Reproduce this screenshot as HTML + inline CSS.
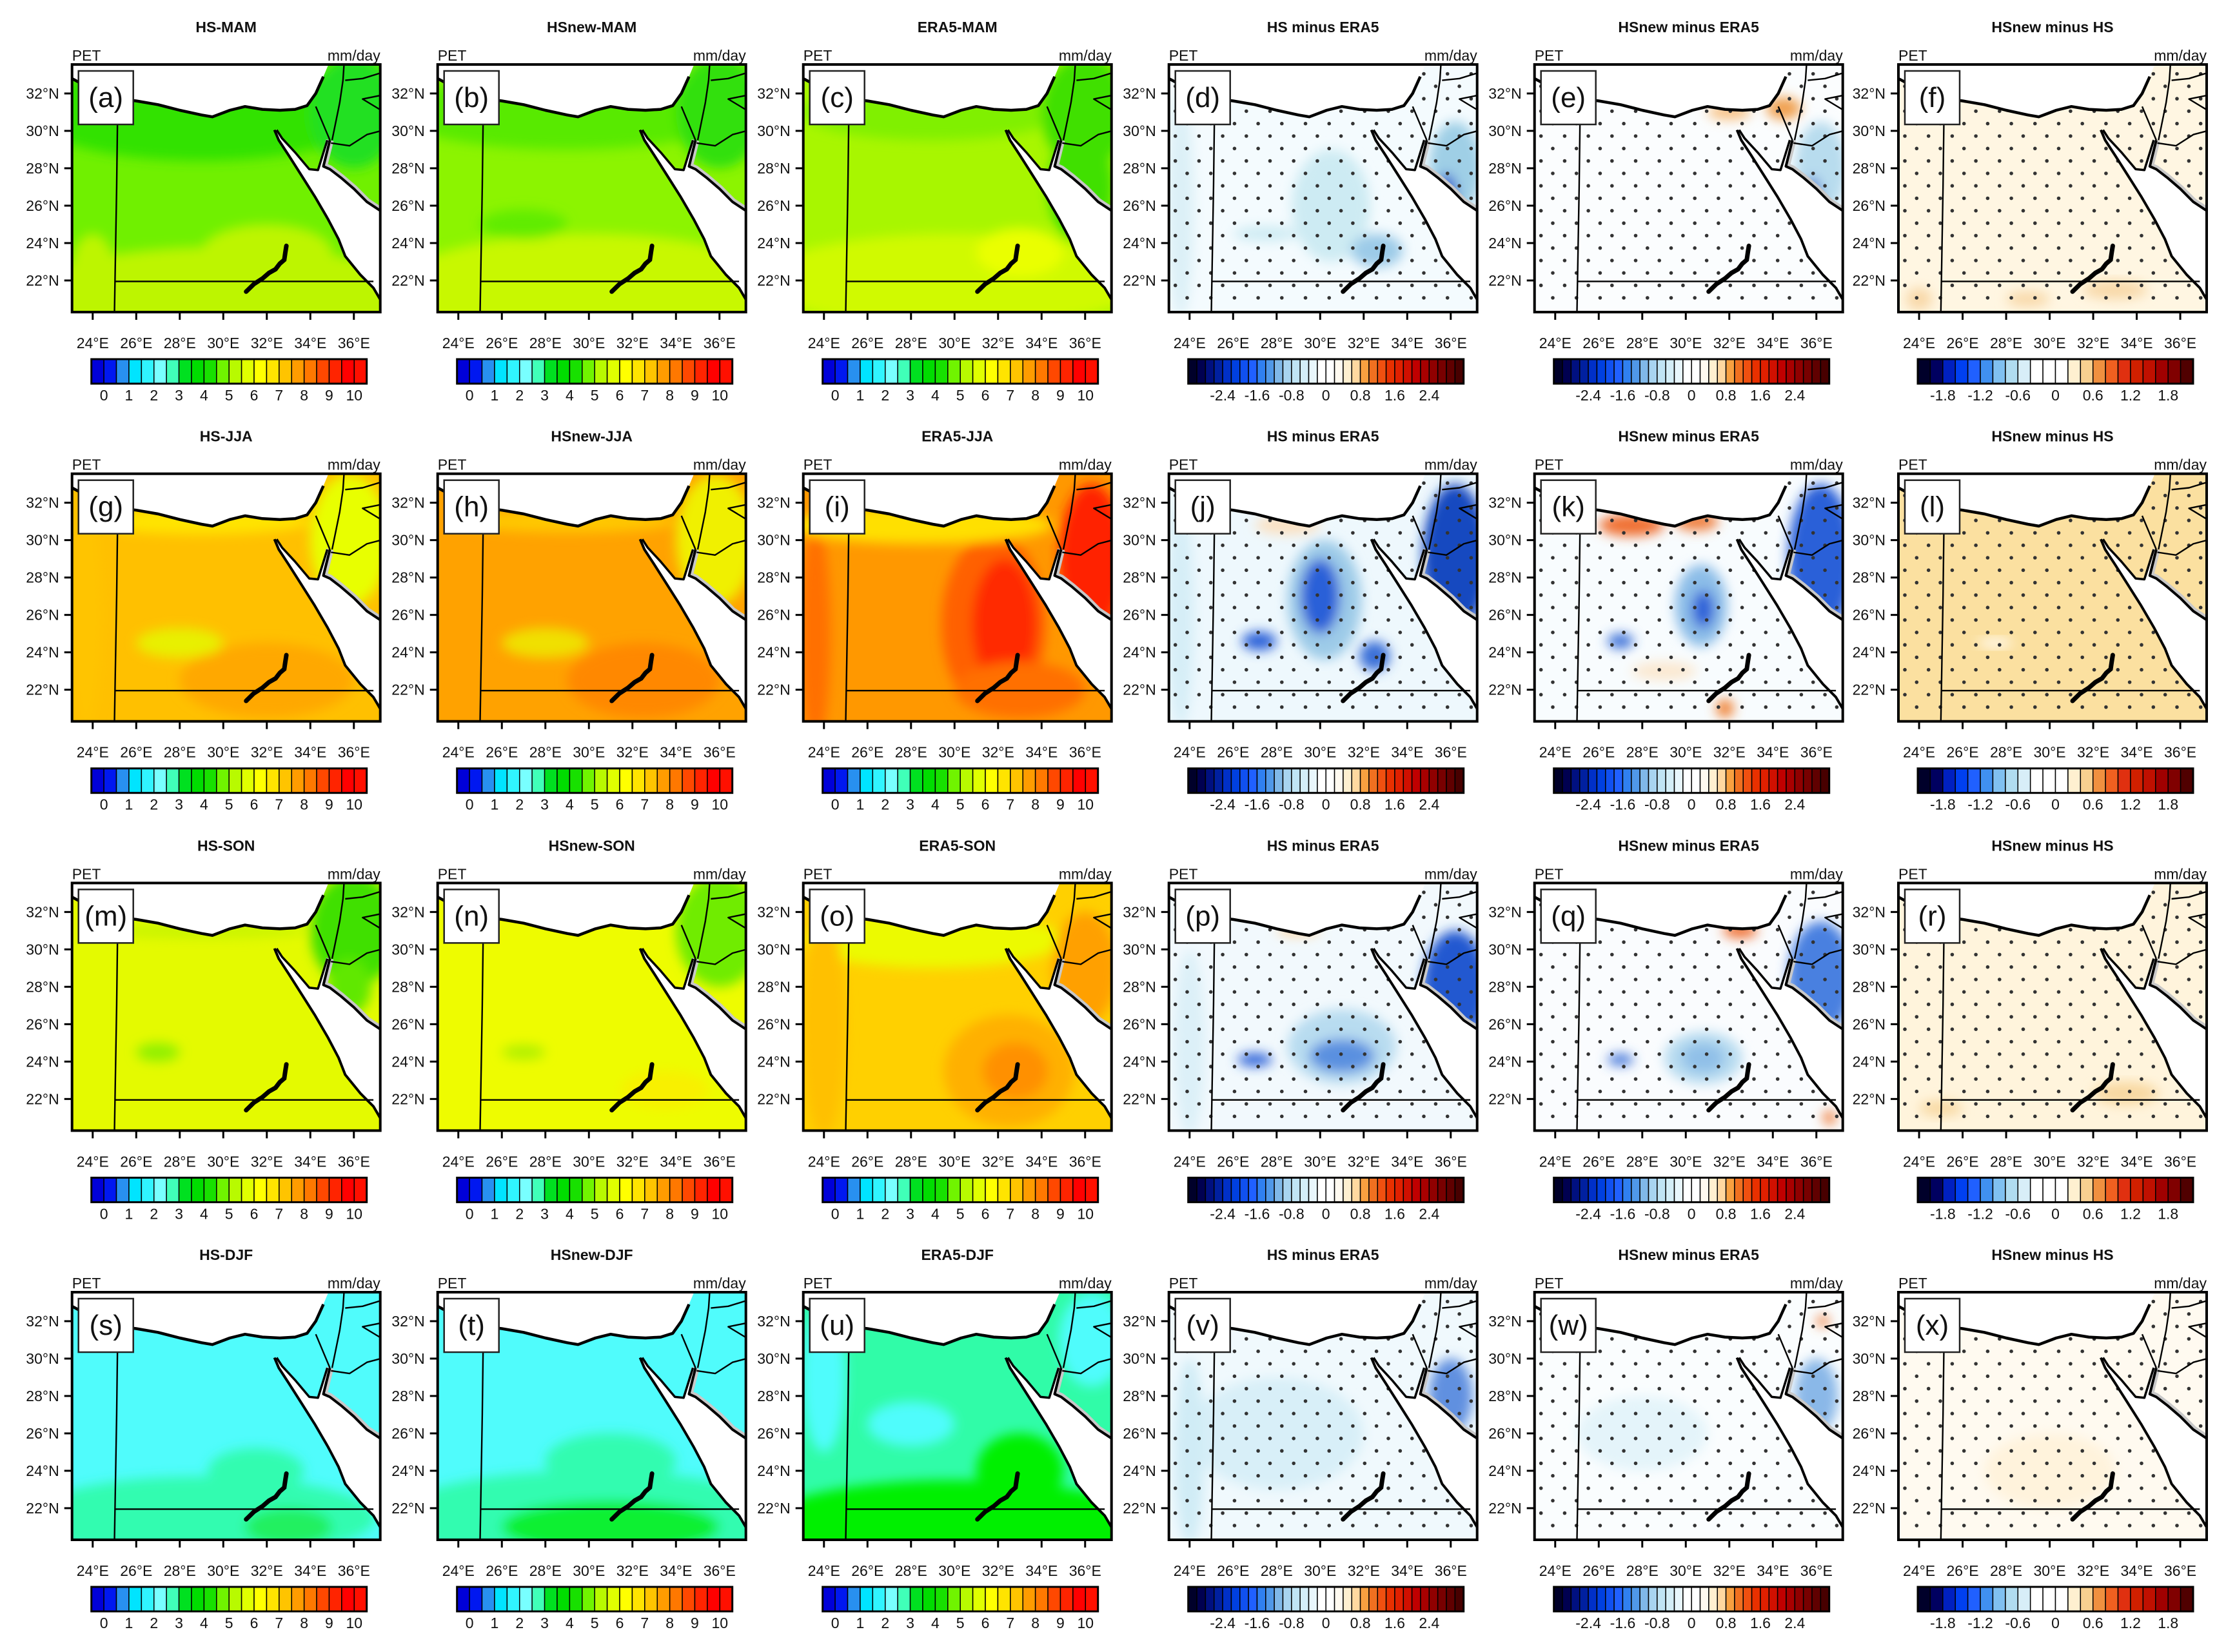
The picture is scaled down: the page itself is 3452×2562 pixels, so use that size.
<!DOCTYPE html>
<html><head><meta charset="utf-8"><title>PET seasonal maps</title>
<style>
html,body{margin:0;padding:0;background:#fff;}
svg{display:block;font-family:"Liberation Sans",sans-serif;}
</style></head>
<body>
<svg id="fig" xmlns="http://www.w3.org/2000/svg" width="3452" height="2562" viewBox="0 0 3452 2562">
<defs>
<filter id="blur" x="-20%" y="-20%" width="140%" height="140%"><feGaussianBlur stdDeviation="9"/></filter>
</defs>
<rect width="3452" height="2562" fill="#fff"/>
</svg>
<script>
// ---- data arrays ----
const seasons = ["MAM","JJA","SON","DJF"];
const colTitles = ["HS-","HSnew-","ERA5-","HS minus ERA5","HSnew minus ERA5","HSnew minus HS"];
const letters = "abcdefghijklmnopqrstuvwx";
const latTicks = [22,24,26,28,30,32];
const lonTicks = [24,26,28,30,32,34,36];
const absTickLabels = ["0","1","2","3","4","5","6","7","8","9","10"];
const diffTickLabels = ["-2.4","-1.6","-0.8","0","0.8","1.6","2.4"];
const hsTickLabels = ["-1.8","-1.2","-0.6","0","0.6","1.2","1.8"];
const absColors = ['#0000d8','#0018f0','#2890f0','#00e4ff','#30f4ff','#78ffff','#40ffb8','#00e020','#00dc00','#18e000','#70f400','#b8fa00','#e0ff00','#ffff00','#ffe400','#ffc400','#ff9c00','#ff7800','#ff4800','#ff2400','#ff0000','#ff1000'];
const diffColors = ['#00002a','#000050','#001080','#0020a0','#0030c8','#0040e0','#1050f0','#2060ff','#3080f0','#5098e8','#80b8e8','#a8d4f0','#c0e4f4','#d4eef8','#e8f6fc','#ffffff','#ffffff','#fffaf0','#fff0d0','#ffd8a0','#f8a040','#f07020','#f05010','#e83000','#e02000','#d01000','#c00000','#a80000','#900000','#780000','#600000','#480000'];
const hsColors = ['#00002a','#000060','#0020c0','#0040f0','#2060ff','#4090f0','#80c0f0','#b0dcf0','#d8eef8','#ffffff','#ffffff','#ffffff','#fff0d0','#f8d090','#f09040','#f06020','#e03010','#d02000','#c01000','#a00000','#800000','#500000'];
// fields: base colour + blobs [lon, lat, rxDeg, ryDeg, colour]
const fieldBase = [
 ['#70f000','#8cf400','#a8f600','#f4fbfe','#fbfdfe','#fff6e2'],
 ['#ffc000','#ffa200','#ff9800','#eef8fd','#f8fcfe','#fbe0a0'],
 ['#e4fa00','#eefc00','#ffd000','#f2f9fd','#fafcfe','#fff4dc'],
 ['#50fcfc','#50fcfc','#30fca8','#f0f9fd','#fafdfe','#fffaf0']
];
const fieldBlobs = [
 [
  [[29,31,8,2.6,'#30e200'],[30,21.3,9,2.5,'#bdf500'],[32,23.5,3,1.5,'#bdf500'],[36,31,2,3,'#20e020'],[24,22.5,1,2,'#bdf500']],
  [[29,31,8,2,'#58ea00'],[30,21.5,9,3,'#c8f800'],[27,25,2,0.8,'#60ec00'],[36,31,2,3,'#30e010']],
  [[30,22,9,2.5,'#d0fa00'],[33,23.5,2,1.3,'#eaff00'],[29,31,6,1.5,'#80f000'],[36,31,2,3,'#40e000'],[35.8,27,1.5,3,'#40e000']],
  [[30.5,26,1.8,3,'#cdebf3'],[32.6,23.6,1.2,0.9,'#9ccbe8'],[27.5,24.5,1.5,0.4,'#cdebf3'],[23.6,26,0.6,6,'#dcf0f7'],[36.2,28,1.2,2.5,'#9fcfe6'],[35.8,26.5,0.5,1.2,'#3060d0']],
  [[34.5,31.2,0.8,0.6,'#f0a050'],[32,31,1,0.4,'#f8c080'],[36.2,28,1.2,2.5,'#b8dcee'],[35.8,26.5,0.4,1,'#4070d0']],
  [[24,21,0.6,0.6,'#f8d8a8'],[33,21.5,1.5,0.5,'#f8d8a8'],[29,21,1,0.4,'#f8d8a8']]
 ],
 [
  [[32,22.5,4,2,'#ffa800'],[28,24.5,2,0.8,'#e8f000'],[29,31,5,0.7,'#ffe400'],[35.8,30,1.8,3.5,'#e8ff00'],[23.7,26,0.7,6,'#ffc400']],
  [[32.5,22.5,3.5,2,'#ff8800'],[28,24.5,2,0.8,'#f0e000'],[29,31,5,0.6,'#ffc800'],[35.8,30,1.8,3.5,'#f0f000']],
  [[31.8,25.5,2.4,4.8,'#ff6000'],[32.3,25.5,1.5,3.5,'#ff2a00'],[23.6,25,0.7,6,'#ff7000'],[28.5,30.8,6,1,'#ffe000'],[36.3,29,1.5,4,'#ff2000'],[33,22,3,1.5,'#ff7000']],
  [[30.2,26.8,1.7,3.2,'#9dcbe8'],[30,27,0.9,2,'#2a60d8'],[27.2,24.6,0.8,0.5,'#2a60d8'],[32.5,23.8,0.7,0.8,'#3a70d8'],[36.2,29,1.5,4,'#1848c0'],[28.5,30.8,1.5,0.5,'#fbe0c0'],[23.6,26,0.6,6,'#d6eef7']],
  [[27.5,30.8,1.5,0.6,'#f07030'],[30.5,31,1,0.5,'#f08040'],[30.7,26.5,1.2,2.2,'#8cbde8'],[30.8,26.3,0.5,1,'#2a60d8'],[27,24.6,0.6,0.4,'#3a70d8'],[31.8,21,0.4,0.5,'#f08030'],[36.2,29,1.5,4,'#2a60d8'],[29,23,1.5,0.5,'#fbe8d0']],
  [[27.5,24.5,0.8,0.3,'#fff8e8']]
 ],
 [
  [[27,24.5,1,0.5,'#90f000'],[36,31,2,3,'#40e000'],[35.8,28,1,1.5,'#60e800'],[29,31,5,0.4,'#c8f400']],
  [[27,24.5,1,0.4,'#b0f000'],[36,31,2,3,'#70ec00'],[33.5,22.5,2,1,'#f8f000']],
  [[32.5,23.5,3,3,'#ffb000'],[32.8,23.5,1.5,1.5,'#ff9000'],[29,30.5,6,1.5,'#ecfa00'],[36,29,1.5,3,'#ffa000'],[24,26,1,6,'#ffc000']],
  [[31,24.8,2.5,2,'#b8dcf0'],[31,24.3,1.5,0.9,'#5a90e0'],[27,24.1,0.8,0.35,'#2a60d8'],[36.2,28,1.5,3,'#2058d0'],[29,31,1,0.3,'#fbd8a8'],[24,25,0.7,5,'#dcf0f8']],
  [[30.8,24.2,1.8,1.4,'#b8dcf0'],[30.8,24.2,1,0.8,'#90c0e8'],[32.5,31,0.8,0.4,'#f07030'],[27,24.1,0.6,0.3,'#3a70d8'],[36.2,28.5,1.5,3,'#4a80e0'],[36.6,21,0.3,0.4,'#f08040']],
  [[33.5,22.3,1.5,0.6,'#f8d8a0'],[25,21.5,1,0.4,'#f8d8a0']]
 ],
 [
  [[29,21.5,8,2.2,'#30fcb0'],[31.5,24,2.2,1.2,'#30fcb0'],[33,21,2,1,'#20f060']],
  [[30,21.5,9,2.5,'#30fcb0'],[31,21,5,1.4,'#10f030'],[31,24.5,3,1.5,'#30fcb0']],
  [[30,21,9,2.5,'#00f000'],[33,24,2,2,'#00f000'],[24,29,1,4,'#50fcfc'],[28,26.5,2,1.2,'#50fcfc'],[36.3,31,1.5,2.5,'#50fcfc']],
  [[28,26,4,3,'#d8eff8'],[36,28,1,2,'#6090e0'],[24,25,0.7,5,'#d0ecf6']],
  [[28,26,3,2,'#e4f4fa'],[36,28,1,2,'#8ab8e8'],[36.3,32,0.3,0.3,'#f08040']],
  [[30,24,3,2,'#fff3dc']]
 ]
];
// geography (lon, lat)
const medSea = [[23.05,33.6],[23.05,32.8],[24,32.2],[25,31.75],[26,31.6],[27,31.4],[28,31.1],[29,30.85],[29.5,30.75],[30.3,31.1],[31,31.3],[31.8,31.15],[32.6,31.1],[33.3,31.15],[33.85,31.35],[34.25,32.0],[34.6,32.9],[34.85,33.6]];
const redSea = [[32.35,30.05],[32.55,29.5],[33.0,28.7],[33.6,27.6],[34.2,26.5],[34.8,25.3],[35.3,24.2],[35.6,23.3],[36.3,22.3],[36.9,21.6],[37.25,20.9],[37.25,25.7],[36.6,26.2],[36.0,26.9],[35.4,27.5],[34.9,27.95],[34.6,28.1],[34.9,29.5],[34.78,29.5],[34.35,27.9],[33.95,27.95],[33.3,28.85],[32.7,29.6],[32.45,30.05]];
const coastLine = medSea.slice(1, 17);
const redWest = redSea.slice(0, 11);
const redEast = [[37.25,25.7],[36.6,26.2],[36.0,26.9],[35.4,27.5],[34.9,27.95],[34.6,28.1],[34.9,29.5]];
const sinaiLine = [[34.78,29.5],[34.35,27.9],[33.95,27.95],[33.3,28.85],[32.7,29.6],[32.45,30.05]];
const borderLines = [
 [[25.15,31.6],[25.1,27],[25.0,20.3]],
 [[25.0,21.95],[36.9,21.95]],
 [[34.25,31.3],[34.9,29.5]],
 [[35.55,33.6],[35.5,32.7],[35.35,31.5],[35.0,29.5]],
 [[34.95,29.35],[35.8,29.2],[36.6,29.8],[37.25,30.0]],
 [[35.6,32.7],[36.4,32.8],[37.25,33.1]],
 [[37.25,31.9],[36.4,31.7],[37.25,31.1]]
];
const lakeNasser = [[31.05,21.4],[31.4,21.8],[31.8,22.1],[32.1,22.4],[32.4,22.6],[32.6,22.9],[32.8,23.1],[32.85,23.5],[32.9,23.85]];

// ---- layout ----
const W = 478, H = 384;
const colX = [111.7, 678.7, 1245.7, 1812.7, 2379.7, 2944];
const rowY = [100, 734.7, 1369.4, 2004];
const NS = "http://www.w3.org/2000/svg";
const fig = document.getElementById('fig');
function X(lon){ return (lon - 23.05) * 33.75; }
function Y(lat){ return (33.55 - lat) * 29; }
function el(tag, attrs, parent){ const e = document.createElementNS(NS, tag); for (const k in attrs) e.setAttribute(k, attrs[k]); (parent||fig).appendChild(e); return e; }
function pts(arr){ return arr.map(p => X(p[0]).toFixed(1)+','+Y(p[1]).toFixed(1)).join(' '); }

for (let r = 0; r < 4; r++) {
 for (let c = 0; c < 6; c++) {
  const bx = colX[c], by = rowY[r];
  const g = el('g', {transform: `translate(${bx},${by})`});
  
  
  const title = c < 3 ? colTitles[c] + seasons[r] : colTitles[c];
  const t = el('text', {x: W/2, y: -50, 'text-anchor': 'middle', 'font-size': 23, 'font-weight': 'bold', fill: '#111'}, g);
  t.textContent = title;
  
  
  const pet = el('text', {x: 0, y: -6, 'font-size': 23, fill: '#111'}, g);
  pet.textContent = 'PET';
  
  
  const unit = el('text', {x: W, y: -6, 'text-anchor': 'end', 'font-size': 23, fill: '#111'}, g);
  unit.textContent = 'mm/day';
  
  

  const clipId = 'clip' + r + '_' + c;
  const cp = el('clipPath', {id: clipId}, g);
  el('rect', {x: 0, y: 0, width: W, height: H}, cp);
  const map = el('g', {'clip-path': `url(#${clipId})`}, g);
  
  
  el('rect', {x: 0, y: 0, width: W, height: H, fill: fieldBase[r][c]}, map);
  const bg = el('g', {filter: 'url(#blur)'}, map);
  fieldBlobs[r][c].forEach(b => {
   const e = el('ellipse', {cx: X(b[0]), cy: Y(b[1]), rx: b[2]*33.75, ry: b[3]*29, fill: b[4]}, bg);
   
   
  });
  if (c >= 3) {
   const dg = el('g', {fill: '#333'}, map);
   
   
   for (let k = -5; k < 20; k++) {
    const yy = 111 + k*19.3;
    if (yy < 4 || yy > H-4) continue;
    const off = (((k % 2) + 2) % 2) ? 28.3 : 10;
    for (let xx = off; xx < W; xx += 36.7) el('circle', {cx: xx, cy: yy, r: 2.8}, dg);
   }
  }
  const med = el('polygon', {points: pts(medSea.concat([[23.05,33.6]])), fill: '#fff'}, map);
  
  
  el('polyline', {points: pts(redEast), fill: 'none', stroke: '#c8c8c8', 'stroke-width': 12}, map);
  const red = el('polygon', {points: pts(redSea), fill: '#fff'}, map);
  
  
  const lines = el('g', {fill: 'none', stroke: '#000', 'stroke-linejoin': 'round'}, map);
  
  
  el('polyline', {points: pts(coastLine), 'stroke-width': 4.5}, lines);
  el('polyline', {points: pts(redWest), 'stroke-width': 4}, lines);
  el('polyline', {points: pts(redEast), 'stroke-width': 4}, lines);
  el('polyline', {points: pts(sinaiLine), 'stroke-width': 3.5}, lines);
  borderLines.forEach(b => el('polyline', {points: pts(b), 'stroke-width': 2.4}, lines));
  const lake = el('polyline', {points: pts(lakeNasser), fill: 'none', stroke: '#000', 'stroke-width': 7, 'stroke-linecap': 'round'}, map);
  
  

  const frame = el('rect', {x: 0, y: 0, width: W, height: H, fill: 'none', stroke: '#000', 'stroke-width': 4}, g);
  
  
  const lb = el('rect', {x: 10, y: 10, width: 85, height: 83, fill: '#fff', stroke: '#222', 'stroke-width': 2.5}, g);
  
  
  const lt = el('text', {x: 52.5, y: 66, 'text-anchor': 'middle', 'font-size': 44, fill: '#111'}, g);
  lt.textContent = '(' + letters[r*6+c] + ')';
  
  

  latTicks.forEach(v => {
   el('line', {x1: -12, x2: 0, y1: Y(v), y2: Y(v), stroke: '#000', 'stroke-width': 3}, g);
   const tl = el('text', {x: -20, y: Y(v) + 8, 'text-anchor': 'end', 'font-size': 23, fill: '#111'}, g);
   tl.textContent = v + '°N';
   
   
  });
  lonTicks.forEach(v => {
   el('line', {x1: X(v), x2: X(v), y1: H, y2: H + 12, stroke: '#000', 'stroke-width': 3}, g);
   const tl = el('text', {x: X(v), y: H + 56, 'text-anchor': 'middle', 'font-size': 23, fill: '#111'}, g);
   tl.textContent = v + '°E';
   
   
  });

  // colorbar
  const cols = c < 3 ? absColors : (c < 5 ? diffColors : hsColors);
  const labs = c < 3 ? absTickLabels : (c < 5 ? diffTickLabels : hsTickLabels);
  const firstIdx = c < 3 ? 1 : (c < 5 ? 4 : 2);
  const stepIdx = c < 3 ? 2 : (c < 5 ? 4 : 3);
  const cbX = 30, cbY = 457, cbW = 427, cbH = 38;
  const cb = el('g', {}, g);
  
  
  const bw = cbW / cols.length;
  cols.forEach((col, i) => {
   const rr = el('rect', {x: cbX + i*bw, y: cbY, width: bw, height: cbH, fill: col, stroke: '#000', 'stroke-width': 1.5}, cb);
   
   
  });
  el('rect', {x: cbX, y: cbY, width: cbW, height: cbH, fill: 'none', stroke: '#000', 'stroke-width': 3}, cb);
  labs.forEach((s, i) => {
   const tl = el('text', {x: cbX + (firstIdx + i*stepIdx)*bw, y: cbY + 64, 'text-anchor': 'middle', 'font-size': 23, fill: '#111'}, cb);
   tl.textContent = s;
   
   
  });
 }
}
</script>
</body></html>
